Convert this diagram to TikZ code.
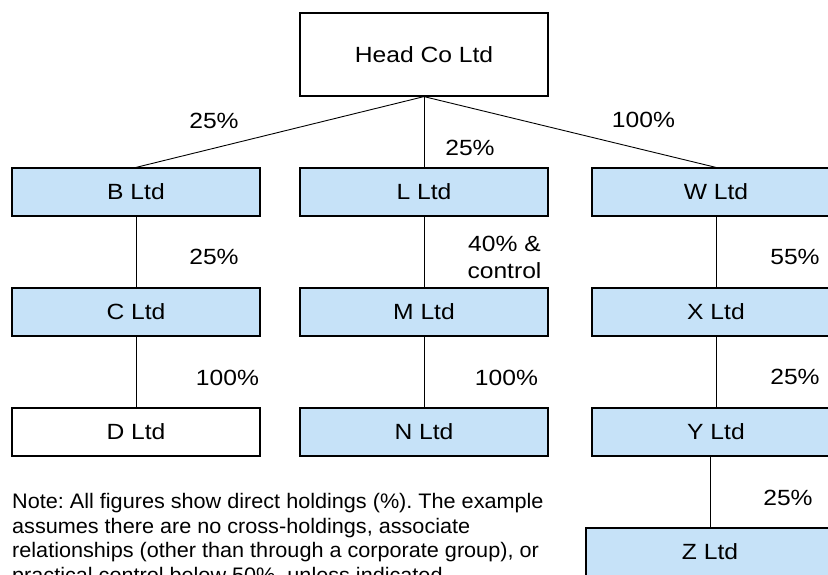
\documentclass[tikz,border=0pt]{standalone}
\usepackage{fontspec}
\setmainfont{Liberation Sans}[FakeStretch=1.12]
\newfontfamily\notefont{Liberation Sans}[FakeStretch=1.03]
\definecolor{boxblue}{RGB}{198,226,248}
\frenchspacing
\tikzset{
  firm/.style={draw, line width=1.2pt, minimum width=248pt, minimum height=48pt, inner sep=0pt, font=\fontsize{22}{26}\selectfont},
  held/.style={firm, fill=boxblue},
  pct/.style={anchor=base, inner sep=0pt, font=\fontsize{22}{27}\selectfont},
  link/.style={line width=0.9pt}
}
\begin{document}
\begin{tikzpicture}[x=1pt,y=-1pt]
   \clip (0,0) rectangle (828,574);
   \node [firm, minimum height=83pt] (head) at (424,54.5) {Head Co Ltd};
   \node [held] (b) at (136,192) {B Ltd};
   \node [held] (l) at (424,192) {L Ltd};
   \node [held] (w) at (716,192) {W Ltd};
   \node [held] (c) at (136,312) {C Ltd};
   \node [held] (m) at (424,312) {M Ltd};
   \node [held] (x) at (716,312) {X Ltd};
   \node [firm] (d) at (136,432) {D Ltd};
   \node [held] (n) at (424,432) {N Ltd};
   \node [held] (y) at (716,432) {Y Ltd};
   \node [held] (z) at (710,552) {Z Ltd};
   \draw [link] (head.south) -- (b.north);
   \draw [link] (head.south) -- (l.north);
   \draw [link] (head.south) -- (w.north);
   \draw [link] (b) -- (c);
   \draw [link] (c) -- (d);
   \draw [link] (l) -- (m);
   \draw [link] (m) -- (n);
   \draw [link] (w) -- (x);
   \draw [link] (x) -- (y);
   \draw [link] (z.north) -- (z.north |- y.south);
   \node [pct] (hb) at (214,128) {25\%};
   \node [pct] (hl) at (470,155) {25\%};
   \node [pct] (hw) at (643.5,127.5) {100\%};
   \node [pct] (bc) at (214,264) {25\%};
   \node [pct, align=center, anchor=center] (lm) at (504.5,257) {40\% \&\\control};
   \node [pct] (wx) at (795,264) {55\%};
   \node [pct] (cd) at (227.5,385) {100\%};
   \node [pct] (mn) at (506.5,385) {100\%};
   \node [pct] (xy) at (795,384) {25\%};
   \node [pct] (yz) at (788,505) {25\%};
   \node [anchor=north west, inner sep=0pt, align=left, font=\notefont\fontsize{21}{24.7}\selectfont] (note) at (12,493)
      {Note: All figures show direct holdings (\%). The example\\
       assumes there are no cross-holdings, associate\\
       relationships (other than through a corporate group), or\\
       practical control below 50\%, unless indicated.};
\end{tikzpicture}
\end{document}
